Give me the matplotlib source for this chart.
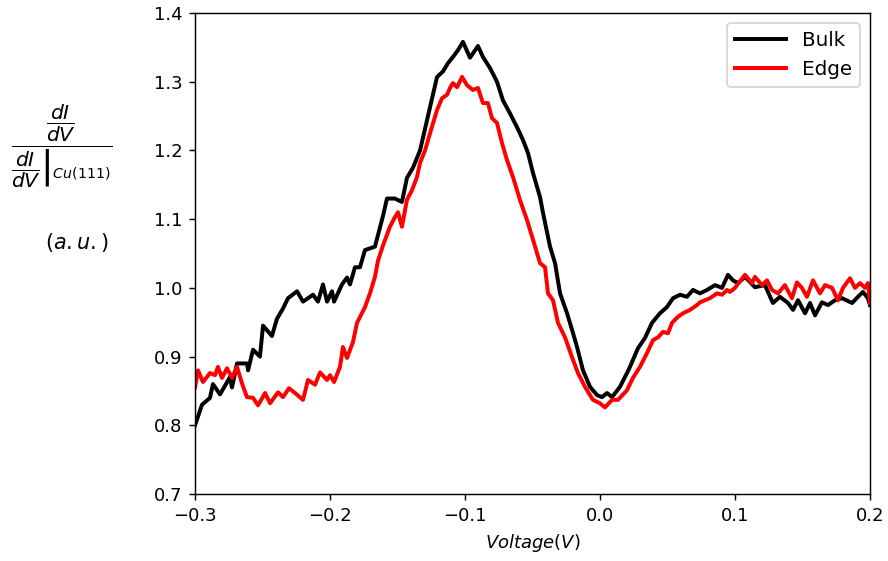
import matplotlib
matplotlib.use("Agg")
import matplotlib.pyplot as plt

# Bulk spectrum (black)
bulk_v = [-0.3000, -0.2948, -0.2889, -0.2867, -0.2815, -0.2741, -0.2726, -0.2689, -0.2615, -0.2607,
          -0.2570, -0.2519, -0.2496, -0.2430, -0.2393, -0.2348, -0.2311, -0.2244, -0.2200, -0.2126,
          -0.2089, -0.2052, -0.2022, -0.1985, -0.1970, -0.1911, -0.1874, -0.1852, -0.1815, -0.1778,
          -0.1741, -0.1667, -0.1607, -0.1578, -0.1519, -0.1467, -0.1430, -0.1385, -0.1333, -0.1259,
          -0.1207, -0.1163, -0.1126, -0.1089, -0.1052, -0.1015, -0.0963, -0.0904, -0.0867, -0.0815,
          -0.0763, -0.0719, -0.0667, -0.0615, -0.0570, -0.0533, -0.0496, -0.0444, -0.0422, -0.0370,
          -0.0333, -0.0296, -0.0244, -0.0207, -0.0170, -0.0126, -0.0074, -0.0022, 0.0015, 0.0052,
          0.0089, 0.0148, 0.0200, 0.0222, 0.0281, 0.0333, 0.0385, 0.0444, 0.0496, 0.0541,
          0.0593, 0.0644, 0.0689, 0.0741, 0.0793, 0.0852, 0.0904, 0.0948, 0.0985, 0.1022,
          0.1074, 0.1148, 0.1222, 0.1281, 0.1333, 0.1393, 0.1430, 0.1467, 0.1519, 0.1556,
          0.1593, 0.1644, 0.1689, 0.1741, 0.1793, 0.1867, 0.1911, 0.1948, 0.1985, 0.2000]
bulk_g = [0.800, 0.830, 0.840, 0.860, 0.845, 0.870, 0.855, 0.890, 0.890, 0.880,
          0.910, 0.900, 0.945, 0.930, 0.955, 0.970, 0.985, 0.995, 0.980, 0.990,
          0.980, 1.005, 0.980, 0.995, 0.980, 1.005, 1.015, 1.005, 1.030, 1.030,
          1.055, 1.060, 1.105, 1.130, 1.130, 1.125, 1.160, 1.175, 1.200, 1.263,
          1.307, 1.315, 1.327, 1.336, 1.346, 1.358, 1.335, 1.352, 1.336, 1.320,
          1.300, 1.273, 1.254, 1.234, 1.215, 1.196, 1.167, 1.132, 1.109, 1.060,
          1.036, 0.992, 0.963, 0.939, 0.914, 0.880, 0.856, 0.844, 0.841, 0.847,
          0.841, 0.856, 0.876, 0.885, 0.912, 0.927, 0.949, 0.963, 0.972, 0.985,
          0.990, 0.987, 0.997, 0.992, 0.997, 1.004, 1.000, 1.019, 1.011, 1.007,
          1.016, 1.001, 1.004, 0.978, 0.987, 0.978, 0.968, 0.982, 0.963, 0.978,
          0.960, 0.979, 0.975, 0.982, 0.985, 0.978, 0.987, 0.994, 0.985, 0.975]

# Edge spectrum (red)
edge_v = [-0.3000, -0.2978, -0.2941, -0.2889, -0.2852, -0.2830, -0.2800, -0.2763, -0.2726, -0.2689,
          -0.2652, -0.2615, -0.2570, -0.2533, -0.2481, -0.2444, -0.2385, -0.2348, -0.2304, -0.2259,
          -0.2200, -0.2163, -0.2111, -0.2074, -0.2022, -0.2000, -0.1970, -0.1926, -0.1904, -0.1874,
          -0.1830, -0.1800, -0.1741, -0.1704, -0.1667, -0.1644, -0.1607, -0.1556, -0.1519, -0.1496,
          -0.1467, -0.1430, -0.1393, -0.1356, -0.1333, -0.1296, -0.1259, -0.1207, -0.1170, -0.1133,
          -0.1111, -0.1089, -0.1059, -0.1022, -0.0985, -0.0941, -0.0904, -0.0867, -0.0830, -0.0800,
          -0.0763, -0.0726, -0.0689, -0.0644, -0.0593, -0.0541, -0.0496, -0.0444, -0.0407, -0.0385,
          -0.0348, -0.0311, -0.0259, -0.0207, -0.0163, -0.0111, -0.0052, 0.0000, 0.0037, 0.0089,
          0.0133, 0.0200, 0.0244, 0.0296, 0.0348, 0.0393, 0.0430, 0.0467, 0.0504, 0.0533,
          0.0578, 0.0615, 0.0667, 0.0719, 0.0741, 0.0815, 0.0867, 0.0904, 0.0941, 0.0963,
          0.1000, 0.1074, 0.1126, 0.1148, 0.1200, 0.1237, 0.1274, 0.1319, 0.1370, 0.1422,
          0.1459, 0.1496, 0.1533, 0.1578, 0.1630, 0.1667, 0.1719, 0.1763, 0.1800, 0.1852,
          0.1889, 0.1926, 0.1963, 0.1985, 0.2000]
edge_g = [0.855, 0.880, 0.863, 0.876, 0.873, 0.885, 0.869, 0.883, 0.869, 0.885,
          0.861, 0.841, 0.840, 0.829, 0.847, 0.832, 0.848, 0.841, 0.854, 0.847,
          0.837, 0.866, 0.859, 0.877, 0.866, 0.873, 0.863, 0.885, 0.914, 0.898,
          0.921, 0.949, 0.972, 0.992, 1.016, 1.040, 1.062, 1.089, 1.103, 1.110,
          1.089, 1.128, 1.142, 1.161, 1.182, 1.200, 1.225, 1.259, 1.276, 1.281,
          1.291, 1.298, 1.292, 1.307, 1.295, 1.288, 1.291, 1.269, 1.269, 1.247,
          1.240, 1.211, 1.186, 1.161, 1.128, 1.099, 1.070, 1.036, 1.030, 0.992,
          0.982, 0.949, 0.928, 0.899, 0.876, 0.856, 0.837, 0.832, 0.826, 0.837,
          0.837, 0.851, 0.869, 0.885, 0.905, 0.924, 0.928, 0.936, 0.934, 0.949,
          0.958, 0.963, 0.968, 0.975, 0.979, 0.985, 0.992, 0.990, 0.997, 0.994,
          1.000, 1.019, 1.007, 1.016, 1.004, 1.011, 0.997, 0.992, 1.004, 0.985,
          1.008, 1.000, 0.987, 1.011, 0.992, 1.004, 1.000, 0.982, 1.000, 1.014,
          1.000, 1.007, 1.000, 1.007, 0.978]

fig = plt.figure(figsize=(888 / 130, 561 / 130), dpi=130)
ax = fig.add_axes([0.2196, 0.1194, 0.7601, 0.8574])

ax.plot(bulk_v, bulk_g, color='black', lw=2.2, label='Bulk')
ax.plot(edge_v, edge_g, color='red', lw=2.2, label='Edge')

ax.set_xlim(-0.3, 0.2)
ax.set_ylim(0.7, 1.4)
ax.set_xlabel(r'$Voltage (V)$')

fig.text(0.069, 0.74,
         r'$\frac{\dfrac{dI}{dV}}{\left.\dfrac{dI}{dV}\right|_{Cu(111)}}$',
         ha='center', va='center', fontsize=16)
fig.text(0.086, 0.567, r'$(a.u.)$', ha='center', va='center', fontsize=11.5)

ax.legend(loc='upper right', fontsize=11, handlelength=2.6)

fig.savefig('out.png', dpi=130)
